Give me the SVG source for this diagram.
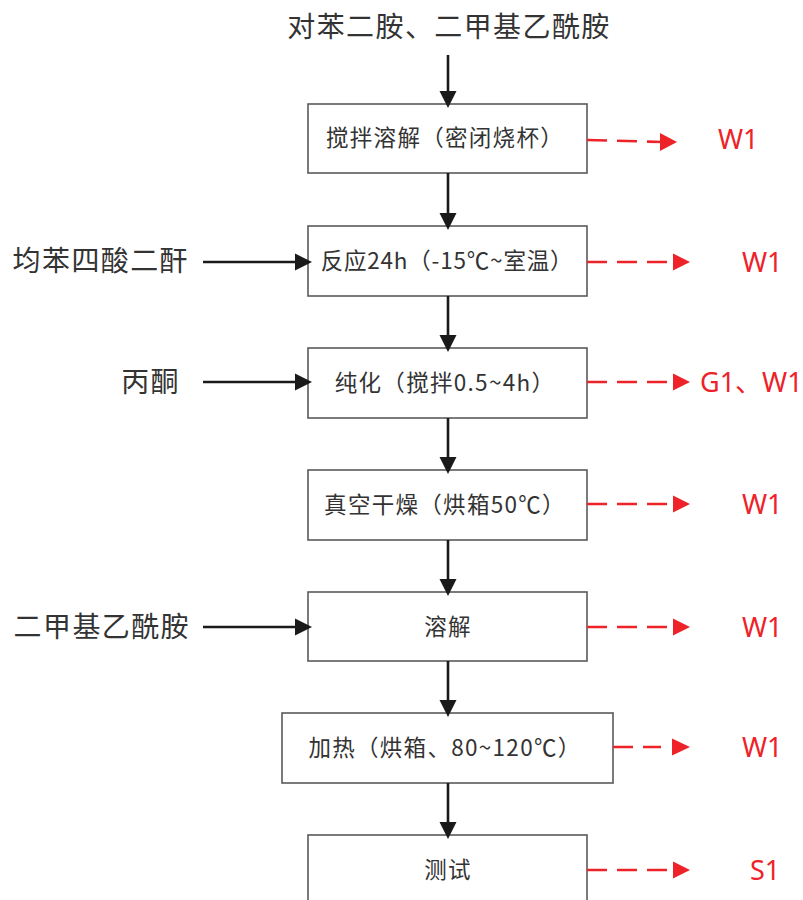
<svg xmlns="http://www.w3.org/2000/svg" width="803" height="900" viewBox="0 0 803 900">
<defs>
<style>
.box{fill:#fff;stroke:#5a5a5a;stroke-width:1.6}
.bt{font-family:"Noto Sans CJK SC","Noto Sans CJK JP",sans-serif;font-size:22.5px;fill:#333;text-anchor:middle;letter-spacing:1.3px}
.lt{font-family:"Noto Sans CJK SC","Noto Sans CJK JP",sans-serif;font-size:28px;fill:#333;letter-spacing:1.4px}
.rt{font-family:"Noto Sans","Noto Sans CJK SC",sans-serif;font-size:27px;fill:#ee2229}
.bl{stroke:#1a1a1a;stroke-width:2.6;fill:none}
.rd{stroke:#ee2229;stroke-width:2.6;fill:none;stroke-dasharray:20 10}
.rh{fill:#ee2229}
</style>
<marker id="ab" markerUnits="userSpaceOnUse" markerWidth="18" markerHeight="18" refX="13" refY="8.5" orient="auto" viewBox="0 0 18 17">
<path d="M0,0 L17,8.5 L0,17 z" fill="#1a1a1a"/>
</marker>
</defs>
<rect width="803" height="900" fill="#fff"/>

<g id="top-input"><text class="lt" x="449" y="37" text-anchor="middle">对苯二胺、二甲基乙酰胺</text></g>
<g id="in-pmda"><text class="lt" x="189" y="271" text-anchor="end">均苯四酸二酐</text></g>
<g id="in-acetone"><text class="lt" x="180" y="392" text-anchor="end">丙酮</text></g>
<g id="in-dmac"><text class="lt" x="190" y="637" text-anchor="end">二甲基乙酰胺</text></g>

<g id="n1"><rect class="box" x="308" y="104" width="279" height="69"/><text class="bt" x="445" y="146">搅拌溶解（密闭烧杯）</text></g>
<g id="n2"><rect class="box" x="308" y="226" width="279" height="70"/><text class="bt" x="447" y="269" style="letter-spacing:0.8px">反应24h（-15℃~室温）</text></g>
<g id="n3"><rect class="box" x="308" y="348" width="279" height="70"/><text class="bt" x="445" y="391">纯化（搅拌0.5~4h）</text></g>
<g id="n4"><rect class="box" x="308" y="470" width="279" height="70"/><text class="bt" x="445" y="513">真空干燥（烘箱50℃）</text></g>
<g id="n5"><rect class="box" x="308" y="592" width="279" height="69"/><text class="bt" x="448" y="635">溶解</text></g>
<g id="n6"><rect class="box" x="282" y="713" width="331" height="70"/><text class="bt" x="445" y="756">加热（烘箱、80~120℃）</text></g>
<g id="n7"><rect class="box" x="308" y="835" width="279" height="80"/><text class="bt" x="448" y="878">测试</text></g>

<g id="out-labels">
<text class="rt" x="718" y="149">W1</text>
<text class="rt" x="742" y="272">W1</text>
<text class="rt" x="700" y="392">G1、W1</text>
<text class="rt" x="742" y="514">W1</text>
<text class="rt" x="742" y="637">W1</text>
<text class="rt" x="742" y="757">W1</text>
<text class="rt" x="750" y="880">S1</text>
</g>

<g id="connectors">
<line class="bl" x1="448" y1="55" x2="448" y2="104" marker-end="url(#ab)"/>
<line class="bl" x1="448" y1="173" x2="448" y2="226" marker-end="url(#ab)"/>
<line class="bl" x1="448" y1="296" x2="448" y2="348" marker-end="url(#ab)"/>
<line class="bl" x1="448" y1="418" x2="448" y2="470" marker-end="url(#ab)"/>
<line class="bl" x1="448" y1="540" x2="448" y2="592" marker-end="url(#ab)"/>
<line class="bl" x1="448" y1="661" x2="448" y2="713" marker-end="url(#ab)"/>
<line class="bl" x1="448" y1="783" x2="448" y2="835" marker-end="url(#ab)"/>

<line class="bl" x1="203" y1="262" x2="308" y2="262" marker-end="url(#ab)"/>
<line class="bl" x1="203" y1="382" x2="308" y2="382" marker-end="url(#ab)"/>
<line class="bl" x1="203" y1="627" x2="308" y2="627" marker-end="url(#ab)"/>

<path class="rd" d="M587,140 L663,142" stroke-dasharray="19 10"/>
<path class="rh" d="M660,133 L677,142 L660,151 z"/>
<path class="rd" d="M587,262 L667,262"/>
<path class="rh" d="M673,253.5 L690,262 L673,270.5 z"/>
<path class="rd" d="M587,382 L667,382"/>
<path class="rh" d="M673,373.5 L690,382 L673,390.5 z"/>
<path class="rd" d="M587,504 L667,504"/>
<path class="rh" d="M673,495.5 L690,504 L673,512.5 z"/>
<path class="rd" d="M587,627 L667,627"/>
<path class="rh" d="M673,618.5 L690,627 L673,635.5 z"/>
<path class="rd" d="M613,747 L661,747" stroke-dasharray="18 10"/>
<path class="rh" d="M672,738.5 L690,747 L672,755.5 z"/>
<path class="rd" d="M587,870 L667,870"/>
<path class="rh" d="M673,861.5 L690,870 L673,878.5 z"/>
</g>
</svg>
